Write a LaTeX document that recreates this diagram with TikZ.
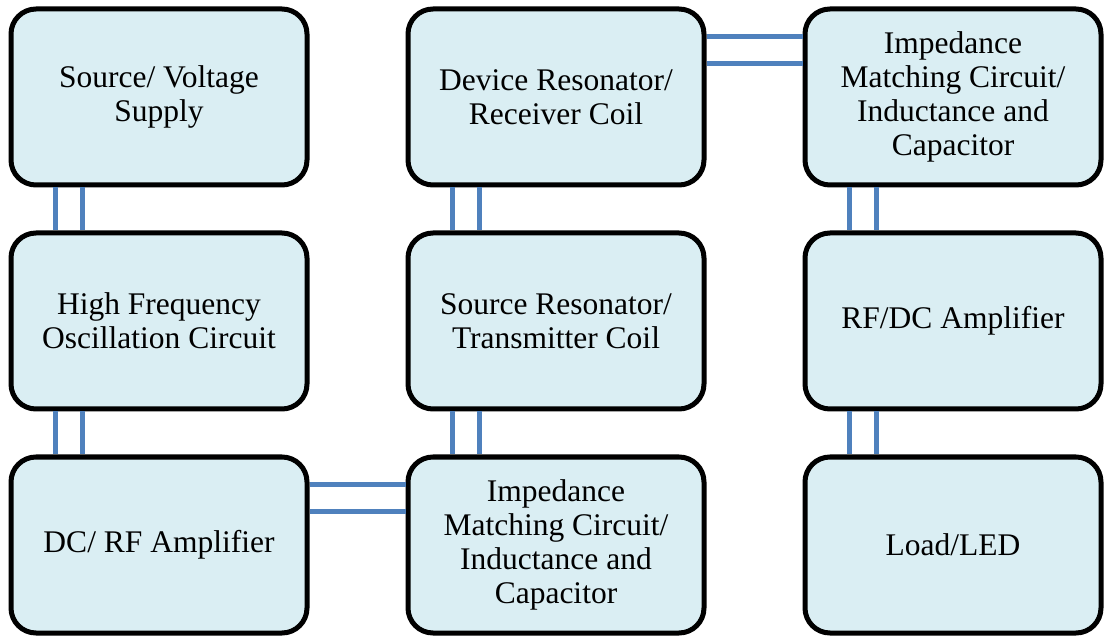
\documentclass[tikz,border=0pt]{standalone}
\usepackage{fontspec}
\setmainfont{Liberation Serif}
\begin{document}
\begin{tikzpicture}[x=1pt,y=-1pt,
  block/.style={draw=black, line width=5pt, rounded corners=25pt,
    fill=boxfill, minimum width=296pt, minimum height=176pt,
    align=center, font=\fontsize{31.5}{34}\selectfont, text=black},
  link/.style={draw=linkblue, line width=5pt}]
\definecolor{boxfill}{HTML}{DAEEF3}
\definecolor{linkblue}{HTML}{4F81BD}
\useasboundingbox (0,0) rectangle (1104,636);

% first column
\node[block] (src)  at (159,97)  {Source/ Voltage\\Supply};
\node[block] (osc)  at (159,321) {High Frequency\\Oscillation Circuit};
\node[block] (dcrf) at (159,545) {DC/ RF Amplifier};
% second column
\node[block] (dev)  at (556,97)  {Device Resonator/\\Receiver Coil};
\node[block] (tx)   at (556,321) {Source Resonator/\\Transmitter Coil};
\node[block] (imp1) at (556,545) {Impedance\\Matching Circuit/\\Inductance and\\Capacitor};
% third column
\node[block] (imp2) at (953,97)  {Impedance\\Matching Circuit/\\Inductance and\\Capacitor};
\node[block] (rfdc) at (953,321) {RF/DC Amplifier};
\node[block] (load) at (953,545) {Load/LED};

% double-line links between the blocks (upper block / lower block)
\foreach \a/\b in {src/osc, osc/dcrf, dev/tx, tx/imp1, imp2/rfdc, rfdc/load}{
  \draw[link] ([xshift=47pt]\a.south west) -- ([xshift=47pt]\b.north west);
  \draw[link] ([xshift=74pt]\a.south west) -- ([xshift=74pt]\b.north west);
}
\foreach \a/\b in {dcrf/imp1, dev/imp2}{
  \draw[link] ([yshift=-30pt]\a.north east) -- ([yshift=-30pt]\b.north west);
  \draw[link] ([yshift=-57pt]\a.north east) -- ([yshift=-57pt]\b.north west);
}
\end{tikzpicture}
\end{document}
